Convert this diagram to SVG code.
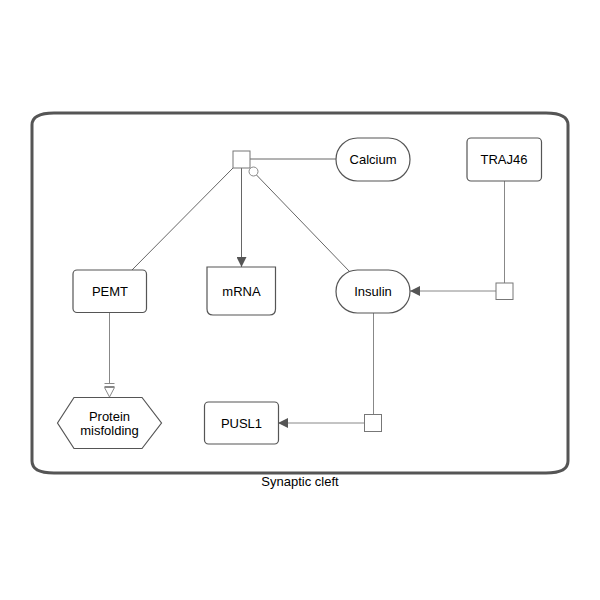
<svg xmlns="http://www.w3.org/2000/svg" width="600" height="600" viewBox="0 0 600 600">
  <style>
    .node { fill: #ffffff; stroke: #555555; stroke-width: 1.2; }
    .lbl { font-family: "Liberation Sans", Arial, sans-serif; font-size: 13px; fill: #000000; text-anchor: middle; dominant-baseline: central; }
    .edge { fill: none; stroke: #666666; stroke-width: 1; }
    .edge-light { fill: none; stroke: #888888; stroke-width: 1; }
    .proc { fill: #ffffff; stroke: #777777; stroke-width: 1; }
  </style>
  <defs>
    <marker id="arrow" viewBox="0 0 10 10" refX="10" refY="5" markerWidth="10" markerHeight="10" markerUnits="userSpaceOnUse" orient="auto">
      <path d="M0,0 L10,5 L0,10 z" fill="#555555"/>
    </marker>
  </defs>

  <!-- compartment -->
  <g id="synaptic-cleft">
    <path d="M54,113 H546 Q568,113 568,125 V461 Q568,473 546,473 H54 Q32,473 32,461 V125 Q32,113 54,113 Z" fill="none" stroke="#555555" stroke-width="3"/>
    <text class="lbl" x="300" y="481">Synaptic cleft</text>
  </g>

  <!-- connectors -->
  <g id="connectors">
    <line class="edge" x1="250" y1="159" x2="336" y2="159"/>
    <line class="edge" x1="233" y1="168" x2="132" y2="270"/>
    <line class="edge" x1="241.5" y1="168" x2="241.5" y2="267" marker-end="url(#arrow)"/>
    <line class="edge" x1="256.5" y1="175" x2="350" y2="272"/>
    <circle cx="253.5" cy="171.5" r="4.5" fill="#ffffff" stroke="#888888" stroke-width="1"/>
    <line class="edge-light" x1="504.5" y1="181" x2="504.5" y2="283"/>
    <line class="edge-light" x1="496" y1="291" x2="410" y2="291" marker-end="url(#arrow)"/>
    <line class="edge-light" x1="373.5" y1="312" x2="373.5" y2="414"/>
    <line class="edge-light" x1="364" y1="423" x2="278" y2="423" marker-end="url(#arrow)"/>
    <!-- necessary stimulation -->
    <line class="edge-light" x1="109.5" y1="312" x2="109.5" y2="383"/>
    <line x1="104.5" y1="383.5" x2="114.5" y2="383.5" stroke="#888888" stroke-width="1"/>
    <line x1="104.5" y1="386.5" x2="114.5" y2="386.5" stroke="#888888" stroke-width="1"/>
    <path d="M104.5,387.5 L114.5,387.5 L109.5,397 Z" fill="#ffffff" stroke="#888888" stroke-width="1"/>
    <rect class="proc" x="233" y="151" width="17" height="17"/>
    <rect class="proc" x="496" y="283" width="17" height="16.5"/>
    <rect class="proc" x="364.5" y="414.5" width="17" height="17"/>
  </g>

  <g id="calcium">
    <rect class="node" x="336" y="138" width="74" height="43" rx="21.5" ry="21.5"/>
    <text class="lbl" x="373" y="159.5">Calcium</text>
  </g>
  <g id="traj46">
    <rect class="node" x="467" y="138" width="74.5" height="43" rx="4"/>
    <text class="lbl" x="504" y="159.5">TRAJ46</text>
  </g>
  <g id="insulin">
    <rect class="node" x="336" y="270" width="74" height="43" rx="21.5" ry="21.5"/>
    <text class="lbl" x="373" y="291.5">Insulin</text>
  </g>
  <g id="pemt">
    <rect class="node" x="73" y="270" width="73.5" height="42.5" rx="4"/>
    <text class="lbl" x="110" y="291.5">PEMT</text>
  </g>
  <g id="mrna">
    <path class="node" d="M207,267 H275.5 V309 Q275.5,315 269.5,315 H213 Q207,315 207,309 Z"/>
    <text class="lbl" x="241.5" y="291.5">mRNA</text>
  </g>
  <g id="protein-misfolding">
    <polygon class="node" points="57.5,423 74,397.5 142,397.5 161.5,423 142,448.5 74,448.5"/>
    <text class="lbl" x="109.5" y="416">Protein</text>
    <text class="lbl" x="109.5" y="430">misfolding</text>
  </g>
  <g id="pusl1">
    <rect class="node" x="204.5" y="402" width="74" height="42" rx="4"/>
    <text class="lbl" x="241.5" y="423">PUSL1</text>
  </g>
</svg>
